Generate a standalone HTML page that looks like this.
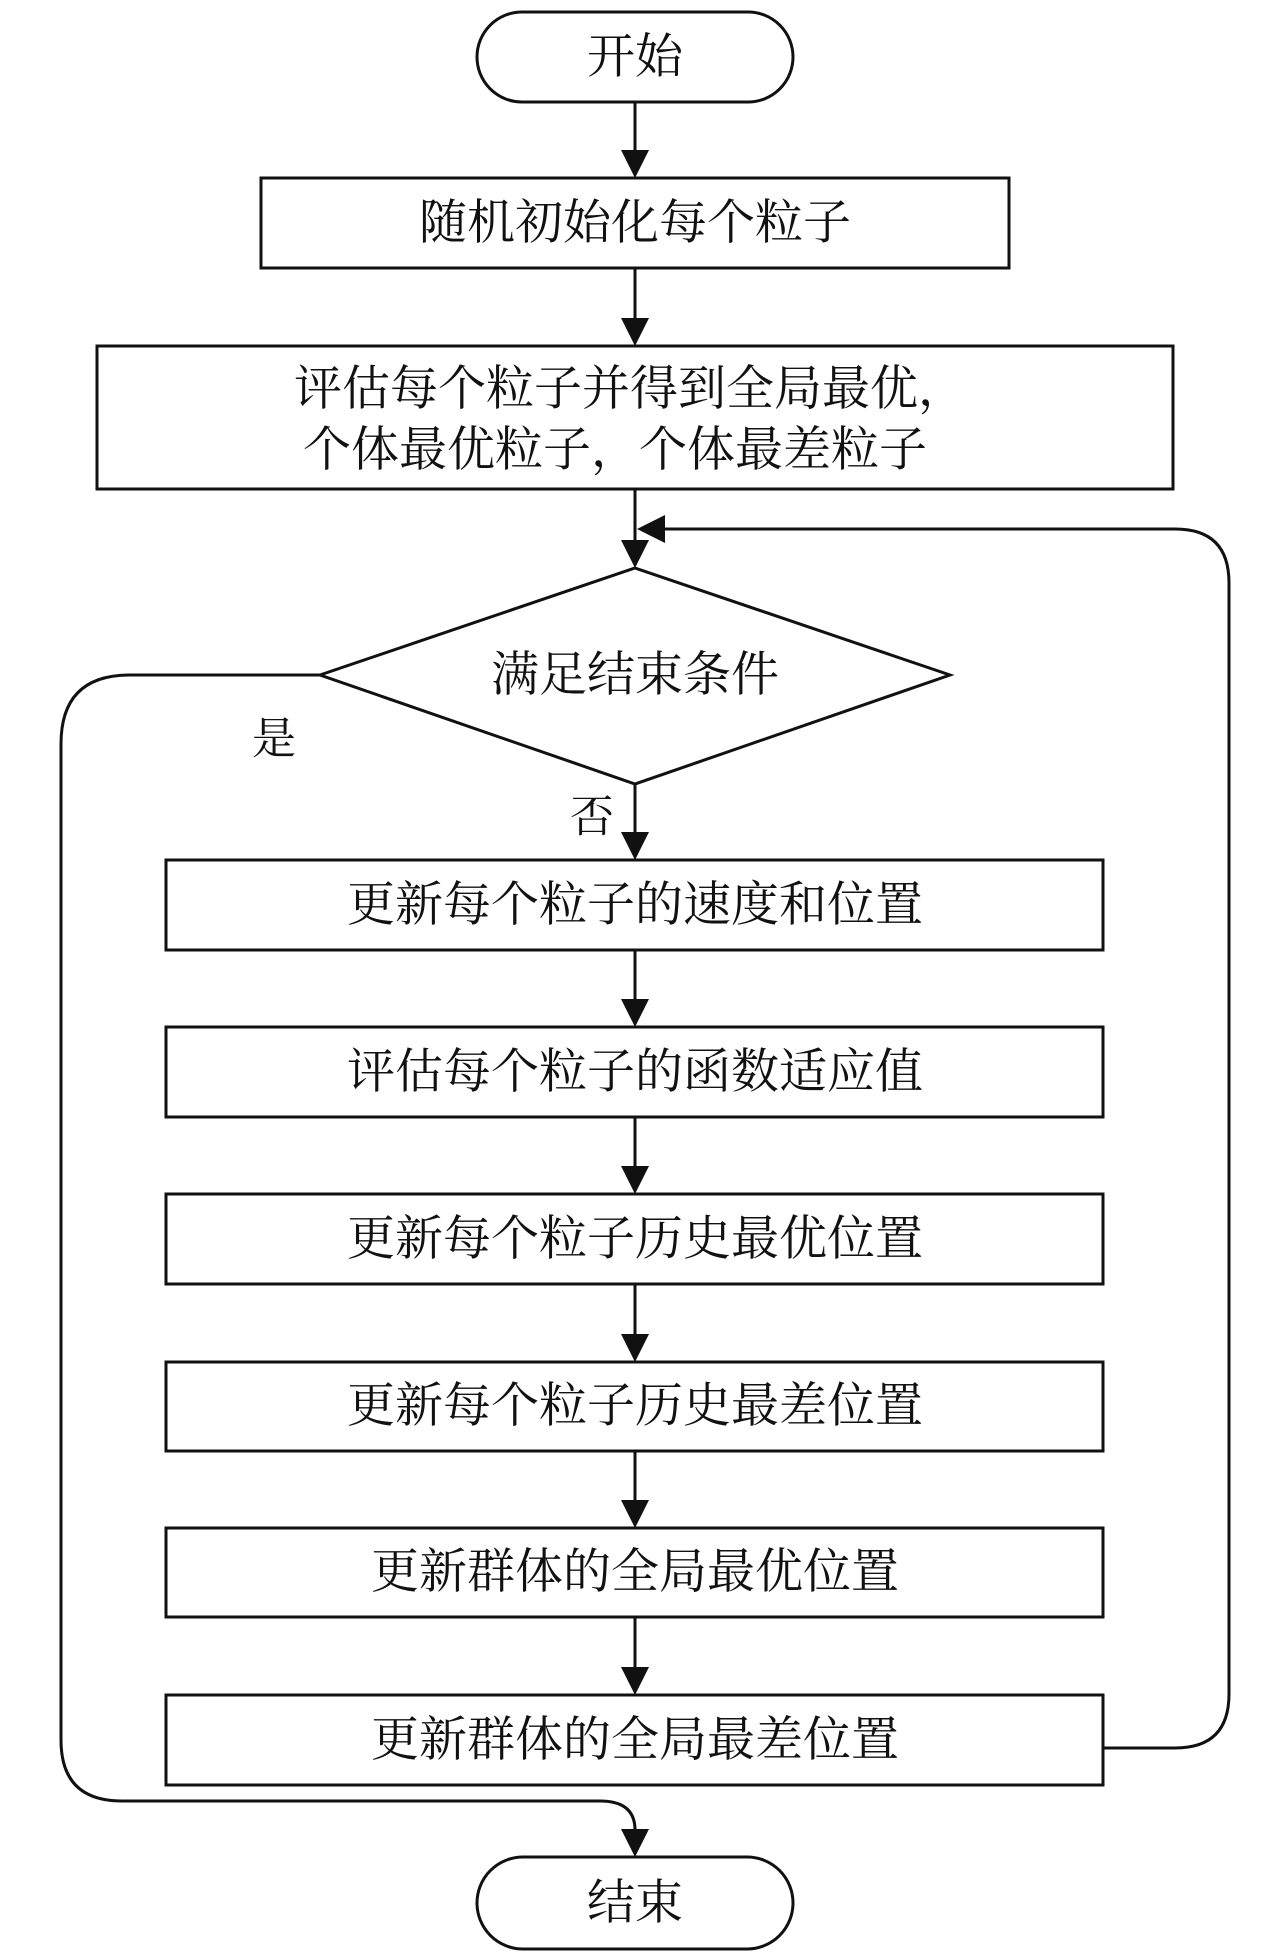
<!DOCTYPE html>
<html><head><meta charset="utf-8"><style>
html,body{margin:0;padding:0;background:#fff;}
svg text{font-family:"Liberation Serif","Noto Serif CJK SC",serif;fill:#111;}
</style></head><body>
<svg width="1285" height="1951" viewBox="0 0 1285 1951" xmlns="http://www.w3.org/2000/svg">
<defs>
<marker id="a" markerWidth="10" markerHeight="10" refX="9" refY="5" orient="auto" markerUnits="userSpaceOnUse" viewBox="0 0 10 10">
</marker>
</defs>
<g fill="none" stroke="#111" stroke-width="3">
<rect x="477" y="12" width="316" height="90" rx="45"/>
<rect x="261" y="178" width="748" height="90"/>
<rect x="97" y="346" width="1076" height="143"/>
<polygon points="635,568 950,675 635,784 320,675"/>
<rect x="166" y="860" width="937" height="90"/>
<rect x="166" y="1027" width="937" height="90"/>
<rect x="166" y="1194" width="937" height="90"/>
<rect x="166" y="1362" width="937" height="89"/>
<rect x="166" y="1528" width="937" height="89"/>
<rect x="166" y="1695" width="937" height="90"/>
<rect x="477" y="1857" width="316" height="92" rx="46"/>
<line x1="635" y1="102" x2="635" y2="150"/>
<line x1="635" y1="268" x2="635" y2="318"/>
<line x1="635" y1="489" x2="635" y2="540"/>
<line x1="635" y1="784" x2="635" y2="832"/>
<line x1="635" y1="950" x2="635" y2="999"/>
<line x1="635" y1="1117" x2="635" y2="1166"/>
<line x1="635" y1="1284" x2="635" y2="1334"/>
<line x1="635" y1="1451" x2="635" y2="1500"/>
<line x1="635" y1="1617" x2="635" y2="1667"/>
<path d="M1103,1748 H1175 Q1229,1748 1229,1694 V583 Q1229,529 1175,529 H665"/>
<path d="M320,675 H130 Q61,675 61,744 V1740 Q61,1801 122,1801 H600 Q635,1801 635,1830"/>
</g>
<g fill="#111">
<polygon points="621,150 649,150 635,178"/>
<polygon points="621,318 649,318 635,346"/>
<polygon points="621,540 649,540 635,568"/>
<polygon points="665,515 665,543 637,529"/>
<polygon points="621,832 649,832 635,860"/>
<polygon points="621,999 649,999 635,1027"/>
<polygon points="621,1166 649,1166 635,1194"/>
<polygon points="621,1334 649,1334 635,1362"/>
<polygon points="621,1500 649,1500 635,1528"/>
<polygon points="621,1667 649,1667 635,1695"/>
<polygon points="621,1829 649,1829 635,1857"/>
</g>
<g font-size="48" text-anchor="middle" dominant-baseline="central">
<text x="635" y="57">开始</text>
<text x="635" y="223">随机初始化每个粒子</text>
<text x="630" y="389">评估每个粒子并得到全局最优，</text>
<text x="615" y="450">个体最优粒子，个体最差粒子</text>
<text x="635" y="675">满足结束条件</text>
<text x="635" y="905">更新每个粒子的速度和位置</text>
<text x="635" y="1072">评估每个粒子的函数适应值</text>
<text x="635" y="1239">更新每个粒子历史最优位置</text>
<text x="635" y="1406">更新每个粒子历史最差位置</text>
<text x="635" y="1572">更新群体的全局最优位置</text>
<text x="635" y="1740">更新群体的全局最差位置</text>
<text x="635" y="1903">结束</text>
<text x="274" y="739" font-size="44">是</text>
<text x="592" y="817" font-size="44">否</text>
</g>
</svg>
</body></html>
